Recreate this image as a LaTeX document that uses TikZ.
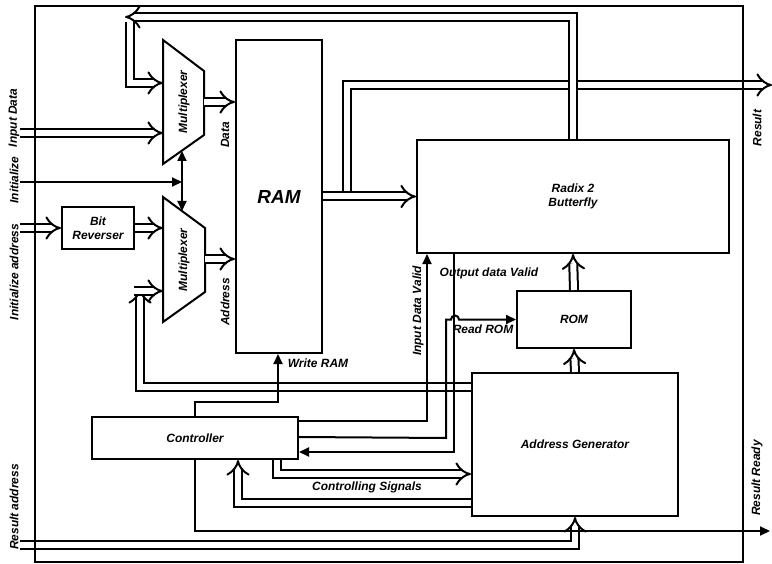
\documentclass[tikz,border=0pt]{standalone}
\usepackage{fontspec}
\setmainfont{Liberation Sans}
\usetikzlibrary{arrows.meta, positioning, calc}

\newcommand{\lblfont}{\bfseries\itshape\fontsize{12}{14}\selectfont}
\tikzset{
  blk/.style={draw, line width=2bp, inner sep=2bp, align=center, font=\lblfont},
  lbl/.style={font=\lblfont, inner sep=1bp},
  sig/.style={line width=2bp, -{Triangle[length=10bp, width=9bp]}},
  busline/.style={line width=2bp, double, double distance=6bp},
  bus/.style={busline, -{Implies[length=7bp, width=19bp]}},
}

\begin{document}
\begin{tikzpicture}[x=1bp, y=-1bp]
\useasboundingbox (0,0) rectangle (772,564);

% Blocks
\node[blk, minimum width=86bp, minimum height=313bp, font=\bfseries\itshape\fontsize{19}{21}\selectfont] (ram) at (279,196.5) {RAM};
\node[blk, minimum width=312bp, minimum height=113bp] (bfly) at (573,196.5) {Radix 2\\Butterfly};
\node[blk, minimum width=114bp, minimum height=57bp] (rom) at (574,319.5) {ROM};
\node[blk, minimum width=206bp, minimum height=143bp] (agen) at (575,444.5) {Address Generator};
\node[blk, minimum width=206bp, minimum height=42bp] (ctrl) at (195,438) {Controller};
\node[blk, minimum width=72bp, minimum height=42bp] (bitrev) at (98,228) {Bit\\Reverser};

% Multiplexers
\draw[line width=2bp] (163,40) -- (204,71) -- (204,135) -- (163,164) -- cycle;
\node[lbl, rotate=90] (muxa) at (184,102) {Multiplexer};
\draw[line width=2bp] (163,197) -- (205,228) -- (205,292) -- (163,322) -- cycle;
\node[lbl, rotate=90] (muxb) at (184,260) {Multiplexer};
\coordinate (muxa-fb) at (163,83);
\coordinate (muxa-in) at (163,133);
\coordinate (muxa-out) at (204,102);
\coordinate (muxa-sel) at (182,151);
\coordinate (muxb-sel) at (182,211);
\coordinate (muxb-in) at (163,228);
\coordinate (muxb-fb) at (163,291);
\coordinate (muxb-out) at (205,259);
\coordinate (res) at (772,85);

% Buses
\draw[bus] (20,133) -- (muxa-in);
\draw[bus] (20,228) -- (bitrev.west);
\draw[bus] (bitrev.east) -- (muxb-in);
\draw[bus] (muxa-out) -- (ram.west |- muxa-out);
\draw[bus] (muxb-out) -- (ram.west |- muxb-out);
\draw[bus] (347,197) |- (res);
\draw[bus] (ram.east) -- (bfly.west);
\draw[bus] (bfly.north) |- (125,17);
\draw[bus] (130,22) |- (muxa-fb);
\draw[bus] ($(agen.north west)+(0,15)$) -| (140,288);
\draw[bus] (134,291) -- (muxb-fb);
\draw[bus] (agen.north) -- (rom.south);
\draw[bus] (rom.north) -- (bfly.south);
\draw[bus] ($(ctrl.south east)+(-22,0)$) |- ($(agen.south west)+(0,-43)$);
\draw[bus] ($(agen.south west)+(0,-14)$) -| ($(ctrl.south west)+(147,0)$);
\draw[bus] (20,545) -| (agen.south);

% Control signals
\draw[sig] (20,182) -- (182,182);
\draw[sig, {Triangle[length=10bp, width=9bp]}-{Triangle[length=10bp, width=9bp]}] (muxa-sel) -- (muxb-sel);
\draw[sig] (ctrl.north) -- ++(0,-14) -| ($(ram.south)+(-1,0)$);
\draw[sig] ($(ctrl.north east)+(0,5)$) -| ($(bfly.south west)+(11,0)$);
\draw[sig] ($(ctrl.north east)+(0,21)$) -- (446,438) -- (446,319.5) -- (451,319.5)
  arc[start angle=180, end angle=0, radius=4bp] -- (rom.west);
\draw[sig] ($(bfly.south west)+(38,0)$) |- ($(ctrl.north east)+(0,36)$);
\draw[sig] (ctrl.south) |- (770,531);

% Labels
\node[lbl, rotate=90] (lindata) at (14,118) {Input Data};
\node[lbl, rotate=90] (linit) at (14,180) {Initialize};
\node[lbl, rotate=90] (linitaddr) at (14,272) {Initialize address};
\node[lbl, rotate=90] (lresaddr) at (14,507) {Result address};
\node[lbl, rotate=90] (ldata) at (225,135) {Data};
\node[lbl, rotate=90] (laddr) at (225,302) {Address};
\node[lbl, rotate=90] (lres) at (757,128) {Result};
\node[lbl, rotate=90] (lresrdy) at (757,478) {Result Ready};
\node[lbl, rotate=90] (lidv) at (418,311) {Input Data Valid};
\node[lbl] (lodv) at (489,273) {Output data Valid};
\node[lbl] (lrom) at (483,329) {Read ROM};
\node[lbl] (lwram) at (318,363) {Write RAM};
\node[lbl] (lctrl) at (367,487) {Controlling Signals};

% Frame
\draw[line width=2bp] (35,6) rectangle (743,562);

\end{tikzpicture}
\end{document}
